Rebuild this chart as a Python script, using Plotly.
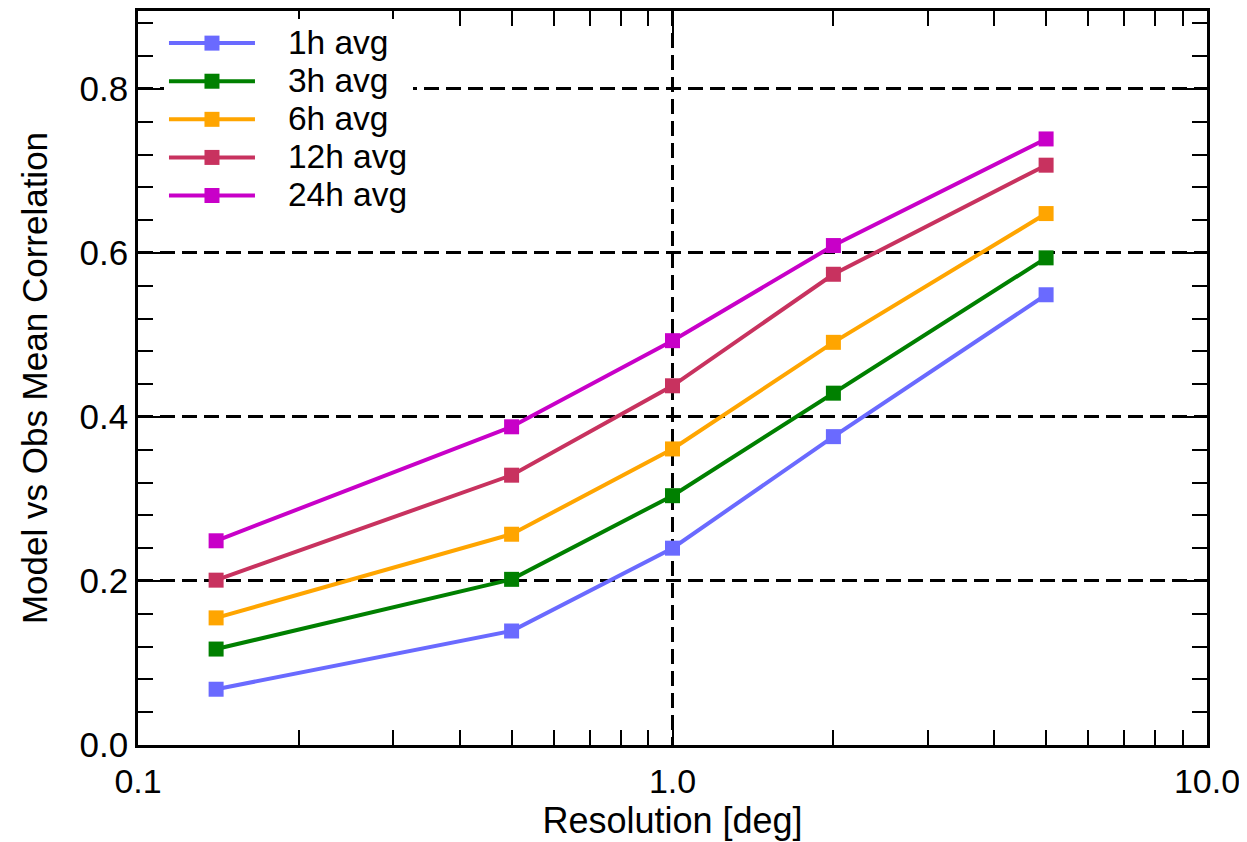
import plotly.graph_objects as go

resolution = [0.14, 0.5, 1.0, 2.0, 5.0]
series_names = ["1h avg", "3h avg", "6h avg", "12h avg", "24h avg"]
corr_1h = [0.068, 0.139, 0.240, 0.376, 0.549]
corr_3h = [0.117, 0.202, 0.304, 0.429, 0.594]
corr_6h = [0.155, 0.257, 0.361, 0.491, 0.648]
corr_12h = [0.201, 0.329, 0.438, 0.574, 0.707]
corr_24h = [0.249, 0.388, 0.493, 0.609, 0.739]
colors = ["#6a6aff", "#008000", "#ffa500", "#c8325f", "#c800c8"]

x_tickvals = [0.1, 1.0, 10.0]
x_ticktext = ["0.1", "1.0", "10.0"]
y_tickvals = [0.0, 0.2, 0.4, 0.6, 0.8]
y_ticktext = ["0.0", "0.2", "0.4", "0.6", "0.8"]

series = [corr_1h, corr_3h, corr_6h, corr_12h, corr_24h]

font_family = "Liberation Sans, Arial, Helvetica, sans-serif"

fig = go.Figure()
for name, vals, col in zip(series_names, series, colors):
    fig.add_trace(go.Scatter(
        x=resolution, y=vals,
        name="<span style='font-size:33.5px'>\u00a0\u00a0\u00a0" + name + "</span>",
        mode="lines+markers",
        line=dict(color=col, width=4),
        marker=dict(symbol="square", size=15, color=col),
    ))

fig.update_layout(
    template="none",
    width=1239, height=834,
    margin=dict(l=130, r=40, t=3, b=97, pad=0),
    paper_bgcolor="white", plot_bgcolor="white",
    font=dict(family=font_family, size=35, color="black"),
    showlegend=True,
    legend=dict(
        x=0.0243, y=0.989, xanchor="left", yanchor="top",
        bgcolor="white", borderwidth=0,
        font=dict(size=27, color="black", family=font_family),
        itemwidth=86, tracegroupgap=0,
    ),
    xaxis=dict(
        type="log", range=[-1, 1], automargin=False,
        tickvals=x_tickvals, ticktext=x_ticktext,
        ticks="inside", ticklen=28, tickwidth=2, tickcolor="black",
        showline=True, linewidth=2.5, linecolor="black", mirror="allticks",
        showgrid=True, gridcolor="black", gridwidth=2.5, griddash="15px,7px",
        minor=dict(ticks="inside", ticklen=15, tickwidth=2, tickcolor="black",
                   dtick="D1", showgrid=False),
        title=dict(text="Resolution [deg]", font=dict(size=36), standoff=8),
        tickfont=dict(size=34),
        ticklabelstandoff=4,
        zeroline=False,
    ),
    yaxis=dict(
        range=[0, 0.895], automargin=False,
        tickvals=y_tickvals, ticktext=y_ticktext,
        ticks="inside", ticklen=28, tickwidth=2, tickcolor="black",
        showline=True, linewidth=2.5, linecolor="black", mirror="allticks",
        showgrid=True, gridcolor="black", gridwidth=2.5, griddash="15px,7px",
        minor=dict(ticks="inside", ticklen=15, tickwidth=2, tickcolor="black",
                   dtick=0.04, tick0=0, showgrid=False),
        title=dict(text="Model vs Obs Mean Correlation", font=dict(size=35), standoff=22),
        tickfont=dict(size=35),
        zeroline=False,
    ),
)

fig.write_html("out.html")
